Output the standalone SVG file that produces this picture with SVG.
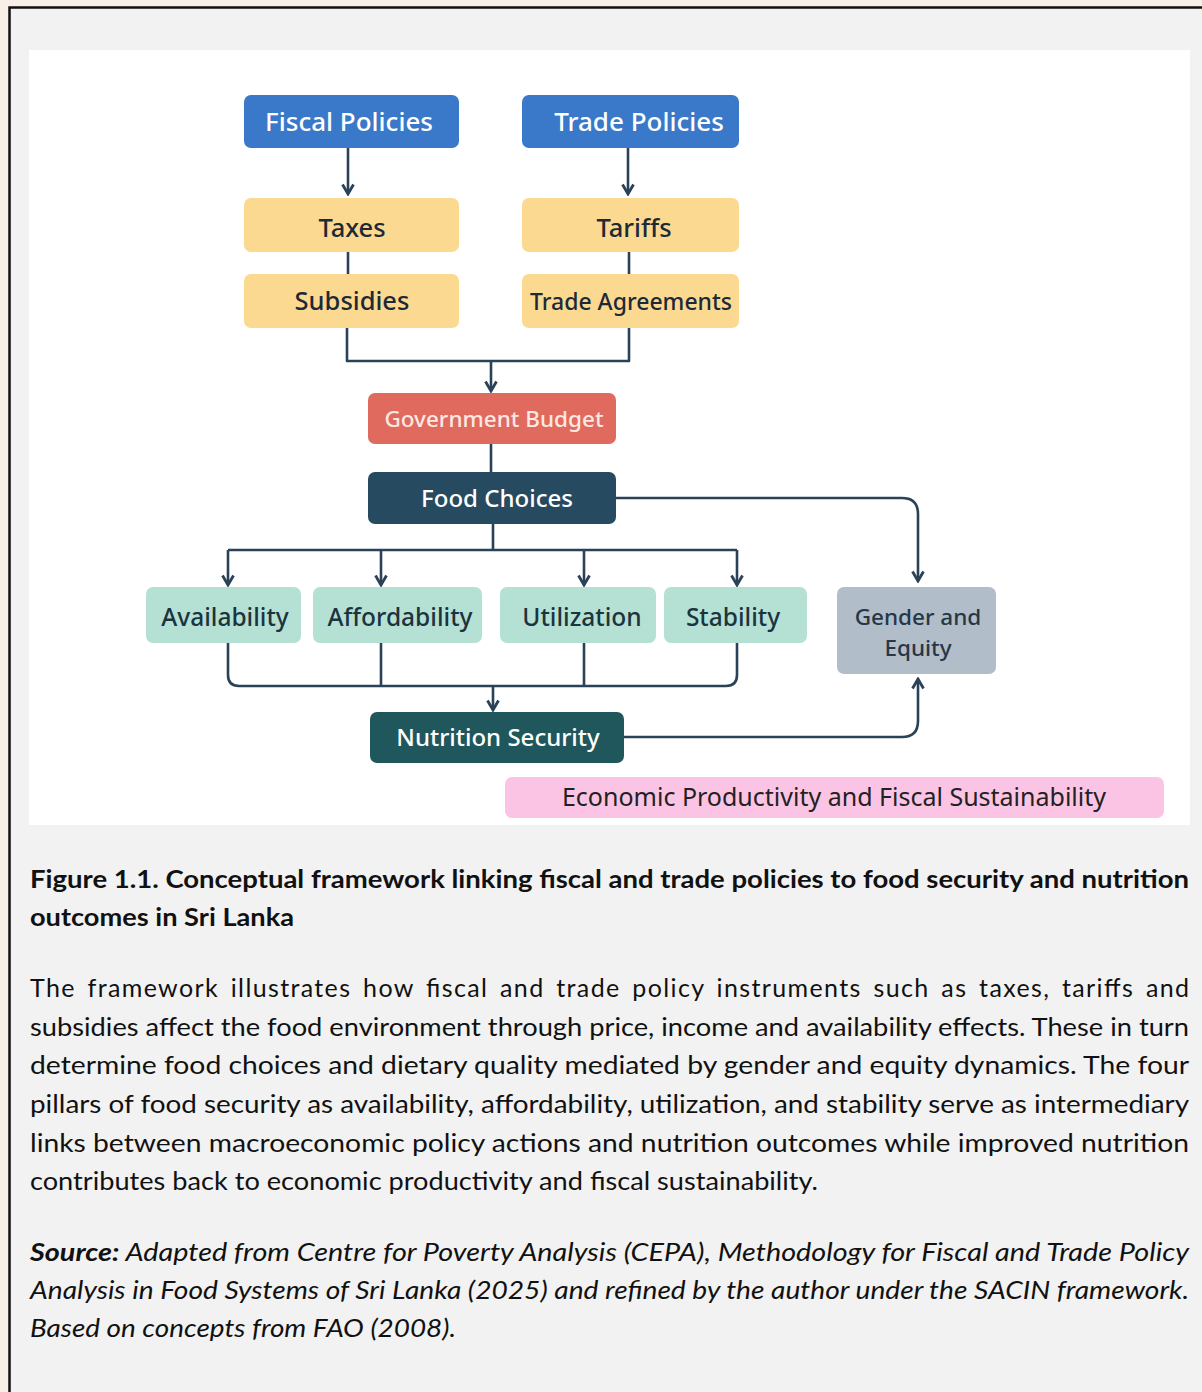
<svg xmlns="http://www.w3.org/2000/svg" width="1202" height="1392" viewBox="0 0 1202 1392">
<defs>
<style>
.box{rx:7;ry:7}
.lbl{font-family:"Noto Sans","Open Sans",sans-serif;font-size:24px;font-weight:500;text-anchor:middle}
.w{fill:#ffffff}
.d{fill:#1d2a36}
.conn{fill:none;stroke:#2a4257;stroke-width:2.6;stroke-linejoin:round}
.body{font-family:Lato,"Liberation Sans",sans-serif;font-size:25px;fill:#111111}
.cap{font-family:Lato,"Liberation Sans",sans-serif;font-size:25px;font-weight:bold;fill:#111111}
.src{font-family:Lato,"Liberation Sans",sans-serif;font-size:25px;font-style:italic;fill:#111111}
</style>
<marker id="arr" viewBox="0 0 14 14" refX="12" refY="7" markerWidth="14" markerHeight="14" markerUnits="userSpaceOnUse" orient="auto">
<path d="M2.5,1.5 L12,7 L2.5,12.5" fill="none" stroke="#2a4257" stroke-width="2.8" stroke-linejoin="miter"/>
</marker>
</defs>
<rect x="0" y="0" width="1202" height="1392" fill="#f8efe6"/>
<rect x="9.5" y="7.5" width="1210" height="1400" fill="#f2f2f2" stroke="#111111" stroke-width="2.5"/>
<rect x="29" y="50" width="1161" height="775" fill="#ffffff"/>

<g id="connectors">
<path class="conn" d="M348,148 V194" marker-end="url(#arr)"/>
<path class="conn" d="M628,148 V194" marker-end="url(#arr)"/>
<path class="conn" d="M348,252 V274"/>
<path class="conn" d="M629,252 V274"/>
<path class="conn" d="M347,328 V361 H629 V328"/>
<path class="conn" d="M491,361 V391" marker-end="url(#arr)"/>
<path class="conn" d="M491,444 V472"/>
<path class="conn" d="M493,524 V550"/>
<path class="conn" d="M228,550 H737"/>
<path class="conn" d="M228,550 V585" marker-end="url(#arr)"/>
<path class="conn" d="M381,550 V585" marker-end="url(#arr)"/>
<path class="conn" d="M584,550 V585" marker-end="url(#arr)"/>
<path class="conn" d="M737,550 V585" marker-end="url(#arr)"/>
<path class="conn" d="M616,498 H902 Q918,498 918,514 V581" marker-end="url(#arr)"/>
<path class="conn" d="M228,643 V675 Q228,686 239,686 H726 Q737,686 737,675 V643"/>
<path class="conn" d="M381,643 V686"/>
<path class="conn" d="M584,643 V686"/>
<path class="conn" d="M493,686 V710" marker-end="url(#arr)"/>
<path class="conn" d="M624,737 H902 Q918,737 918,721 V679" marker-end="url(#arr)"/>
</g>

<g id="fiscal-policies"><rect class="box" x="244" y="95" width="215" height="53" fill="#3a78c9"/><text class="lbl w" x="349" y="131" style="font-size:26px">Fiscal Policies</text></g>
<g id="trade-policies"><rect class="box" x="522" y="95" width="217" height="53" fill="#3a78c9"/><text class="lbl w" x="639" y="131" style="font-size:26px">Trade Policies</text></g>
<g id="taxes"><rect class="box" x="244" y="198" width="215" height="54" fill="#fcd990"/><text class="lbl d" x="352" y="237" style="font-size:25.5px">Taxes</text></g>
<g id="tariffs"><rect class="box" x="522" y="198" width="217" height="54" fill="#fcd990"/><text class="lbl d" x="634" y="237" style="font-size:25.5px">Tariffs</text></g>
<g id="subsidies"><rect class="box" x="244" y="274" width="215" height="54" fill="#fcd990"/><text class="lbl d" x="352" y="310" style="font-size:25.5px">Subsidies</text></g>
<g id="trade-agreements"><rect class="box" x="522" y="274" width="217" height="54" fill="#fcd990"/><text class="lbl d" x="631" y="310" style="font-size:23px">Trade Agreements</text></g>
<g id="government-budget"><rect class="box" x="368" y="393" width="248" height="51" fill="#e06a5e"/><text class="lbl" x="494" y="427" fill="#fbe8e2" style="font-size:22.5px">Government Budget</text></g>
<g id="food-choices"><rect class="box" x="368" y="472" width="248" height="52" fill="#264a5f"/><text class="lbl w" x="497" y="507" style="font-size:24px">Food Choices</text></g>
<g id="availability"><rect class="box" x="146" y="587" width="155" height="56" fill="#b5e1d4"/><text class="lbl" x="225" y="626" fill="#1c3340" style="font-size:24.5px">Availability</text></g>
<g id="affordability"><rect class="box" x="313" y="587" width="169" height="56" fill="#b5e1d4"/><text class="lbl" x="400" y="626" fill="#1c3340" style="font-size:24.5px">Affordability</text></g>
<g id="utilization"><rect class="box" x="500" y="587" width="156" height="56" fill="#b5e1d4"/><text class="lbl" x="582" y="626" fill="#1c3340" style="font-size:24.5px">Utilization</text></g>
<g id="stability"><rect class="box" x="664" y="587" width="143" height="56" fill="#b5e1d4"/><text class="lbl" x="733" y="626" fill="#1c3340" style="font-size:24.5px">Stability</text></g>
<g id="gender-equity"><rect class="box" x="837" y="587" width="159" height="87" fill="#b2bdca"/><text class="lbl" x="918" y="625" fill="#263746" style="font-size:22.5px">Gender and</text><text class="lbl" x="918" y="656" fill="#263746" style="font-size:22.5px">Equity</text></g>
<g id="nutrition-security"><rect class="box" x="370" y="712" width="254" height="51" fill="#1f575c"/><text class="lbl w" x="498" y="746" style="font-size:24px">Nutrition Security</text></g>
<g id="economic-productivity"><rect class="box" x="505" y="777" width="659" height="41" rx="11" ry="11" fill="#fcc4e4"/><text class="lbl" x="834" y="806" fill="#222222" style="font-size:25px;font-weight:400">Economic Productivity and Fiscal Sustainability</text></g>

<g id="caption">
<text class="cap" x="30" y="888" textLength="1159" lengthAdjust="spacingAndGlyphs">Figure 1.1. Conceptual framework linking fiscal and trade policies to food security and nutrition</text>
<text class="cap" x="30" y="926" textLength="264" lengthAdjust="spacingAndGlyphs">outcomes in Sri Lanka</text>
<text class="body" x="30" y="997" textLength="1159" lengthAdjust="spacing" word-spacing="4">The framework illustrates how fiscal and trade policy instruments such as taxes, tariffs and</text>
<text class="body" x="30" y="1036" textLength="1159" lengthAdjust="spacingAndGlyphs">subsidies affect the food environment through price, income and availability effects. These in turn</text>
<text class="body" x="30" y="1074" textLength="1159" lengthAdjust="spacingAndGlyphs">determine food choices and dietary quality mediated by gender and equity dynamics. The four</text>
<text class="body" x="30" y="1113" textLength="1159" lengthAdjust="spacingAndGlyphs">pillars of food security as availability, affordability, utilization, and stability serve as intermediary</text>
<text class="body" x="30" y="1152" textLength="1159" lengthAdjust="spacingAndGlyphs">links between macroeconomic policy actions and nutrition outcomes while improved nutrition</text>
<text class="body" x="30" y="1190" textLength="788" lengthAdjust="spacingAndGlyphs">contributes back to economic productivity and fiscal sustainability.</text>
<text class="src" x="30" y="1261" textLength="1159" lengthAdjust="spacingAndGlyphs"><tspan font-weight="bold">Source:</tspan> Adapted from Centre for Poverty Analysis (CEPA), Methodology for Fiscal and Trade Policy</text>
<text class="src" x="30" y="1299" textLength="1159" lengthAdjust="spacingAndGlyphs">Analysis in Food Systems of Sri Lanka (2025) and refined by the author under the SACIN framework.</text>
<text class="src" x="30" y="1337" textLength="426" lengthAdjust="spacingAndGlyphs">Based on concepts from FAO (2008).</text>
</g>
</svg>
